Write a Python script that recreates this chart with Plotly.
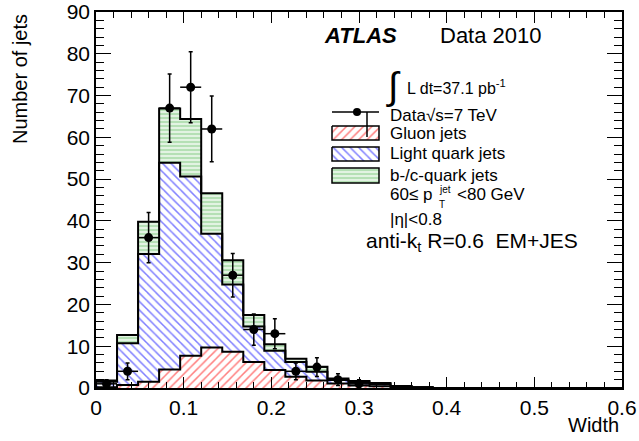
import numpy as np
import plotly.graph_objects as go

# ---------------- data ----------------
bin_width = 0.024
n_bins = 25
edges = [round(i * bin_width, 3) for i in range(n_bins + 1)]
centers = [round((edges[i] + edges[i + 1]) / 2, 4) for i in range(n_bins)]

gluon = [0.2, 0.7, 1.5, 4.4, 7.7, 9.7, 8.7, 6.2, 4.3, 2.7, 1.8, 1.1, 0.6, 0.4, 0.2, 0.1,
         0, 0, 0, 0, 0, 0, 0, 0, 0]
light = [1.3, 10.0, 30.6, 49.5, 42.9, 27.2, 16.1, 8.5, 4.6, 3.5, 2.1, 0.8, 0.7, 0.5, 0.2, 0.1,
         0, 0, 0, 0, 0, 0, 0, 0, 0]
bquark = [0.3, 2.0, 7.7, 13.0, 13.8, 9.7, 5.8, 2.8, 1.6, 0.8, 1.2, 0.4, 0.4, 0.3, 0.1, 0.0,
          0, 0, 0, 0, 0, 0, 0, 0, 0]
data_counts = [1, 4, 36, 67, 72, 62, 27, 14, 13, 4, 5, 2, 1]

x_ticks = [0, 0.1, 0.2, 0.3, 0.4, 0.5, 0.6]
y_ticks = [0, 10, 20, 30, 40, 50, 60, 70, 80, 90]

FONT = "Liberation Sans, Arial, Helvetica, sans-serif"

# plot-area pixel frame (used for overlay coordinates)
L, R, T, B = 96, 622, 12, 388

cum1 = list(np.array(gluon))
cum2 = list(np.array(gluon) + np.array(light))
cum3 = list(np.array(gluon) + np.array(light) + np.array(bquark))

fig = go.Figure()

pat_g = dict(shape="/", fgcolor="#ff0000", bgcolor="white", size=6, solidity=0.25)
pat_l = dict(shape="\\", fgcolor="#0000ff", bgcolor="white", size=6, solidity=0.25)
pat_b = dict(shape="-", fgcolor="#6cc26c", bgcolor="white", size=4, solidity=0.7)

for vals, pat in [(gluon, pat_g), (light, pat_l), (bquark, pat_b)]:
    fig.add_trace(go.Bar(
        x=centers, y=vals, width=bin_width,
        marker=dict(color="white", pattern=pat, line=dict(width=0)),
        hoverinfo="skip"))

# step outlines of stacked histograms
for cum in [cum1, cum2, cum3]:
    fig.add_trace(go.Scatter(
        x=[0] + edges, y=[0] + cum + [cum[-1]],
        mode="lines", line=dict(color="black", width=2, shape="hv"),
        hoverinfo="skip"))

# data points
nd = len(data_counts)
fig.add_trace(go.Scatter(
    x=centers[:nd], y=data_counts, mode="markers",
    marker=dict(color="black", size=9),
    error_y=dict(type="data", array=list(np.sqrt(data_counts)), color="black",
                 thickness=1.5, width=2),
    error_x=dict(type="data", array=[bin_width / 2] * nd, color="black",
                 thickness=1.5, width=0),
    hoverinfo="skip"))

# ---------------- legend (overlay axes in pixel units) ----------------
box_l, box_r = 332, 379
legend_boxes = [(126, 140, pat_g), (147, 161, pat_l), (168, 183, pat_b)]
for y0, y1, pat in legend_boxes:
    fig.add_trace(go.Scatter(
        x=[box_l, box_r, box_r, box_l, box_l], y=[y0, y0, y1, y1, y0],
        xaxis="x2", yaxis="y2", mode="lines", fill="toself",
        fillcolor="white", fillpattern=pat,
        line=dict(color="black", width=1.5), hoverinfo="skip"))

fig.add_trace(go.Scatter(x=[box_l, box_r], y=[112, 112], xaxis="x2", yaxis="y2",
                         mode="lines", line=dict(color="black", width=1.5), hoverinfo="skip"))
fig.add_trace(go.Scatter(x=[367, 367], y=[112, 137], xaxis="x2", yaxis="y2",
                         mode="lines", line=dict(color="black", width=1.5), hoverinfo="skip"))
fig.add_trace(go.Scatter(x=[357], y=[112], xaxis="x2", yaxis="y2",
                         mode="markers", marker=dict(color="black", size=8), hoverinfo="skip"))


def txt(x, y, s, size=17, xanchor="left", yanchor="middle"):
    fig.add_annotation(x=x, y=y, xref="x2", yref="y2", text=s, showarrow=False,
                       xanchor=xanchor, yanchor=yanchor,
                       font=dict(family=FONT, size=size, color="black"))


txt(322, 35, "<b><i>ATLAS</i></b>", 22)
txt(438, 35, "Data 2010", 22)
txt(384, 86, "\u222b", 38)
txt(405, 87, "L dt=37.1 pb<sup>-1</sup>", 16)
txt(388, 115, "Data\u221as=7 TeV", 17)
txt(388, 133, "Gluon jets", 17)
txt(388, 153, "Light quark jets", 17)
txt(388, 175, "b-/c-quark jets", 17)
txt(388, 194, "60\u2264 p", 17)
txt(437, 189, "jet", 10)
txt(437, 204, "T", 10)
txt(455, 194, "<80 GeV", 17)
txt(388, 219, "|\u03b7|<0.8", 17)
txt(364, 242, "anti-k<sub>t</sub> R=0.6\u00a0\u00a0EM+JES", 21)

# axis titles (paper coords)
def px2paper(px, py):
    return (px - L) / (R - L), (B - py) / (B - T)

tx, ty = px2paper(20, 12)
fig.add_annotation(x=tx, y=ty, xref="paper", yref="paper", text="Number of jets",
                   textangle=-90, showarrow=False, xanchor="center", yanchor="top",
                   font=dict(family=FONT, size=20, color="black"))
wx, wy = px2paper(621, 425)
fig.add_annotation(x=wx, y=wy, xref="paper", yref="paper", text="Width",
                   showarrow=False, xanchor="right", yanchor="middle",
                   font=dict(family=FONT, size=20, color="black"))

fig.update_layout(
    width=639, height=441,
    margin=dict(l=L, r=639 - R, t=T, b=441 - B, autoexpand=False),
    paper_bgcolor="white", plot_bgcolor="white",
    barmode="stack", bargap=0, showlegend=False,
    font=dict(family=FONT, color="black"),
    xaxis=dict(range=[0, 0.6], tickvals=x_ticks, ticktext=[f"{v:g}" for v in x_ticks],
               ticks="inside", ticklen=11, tickwidth=1, tickcolor="black", automargin=False,
               showline=True, linecolor="black", linewidth=1.5, mirror="allticks",
               showgrid=False, zeroline=False, tickfont=dict(size=21),
               minor=dict(dtick=0.02, tick0=0, ticks="inside", ticklen=6,
                          tickcolor="black", showgrid=False)),
    yaxis=dict(range=[0, 90], tickvals=y_ticks, ticks="inside", ticklen=15, tickwidth=1,
               tickcolor="black", showline=True, linecolor="black", linewidth=1.5,
               automargin=False,
               mirror="allticks", showgrid=False, zeroline=False, tickfont=dict(size=21),
               minor=dict(dtick=2, tick0=0, ticks="inside", ticklen=8,
                          tickcolor="black", showgrid=False)),
    xaxis2=dict(overlaying="x", range=[L, R], visible=False, anchor="y2", automargin=False),
    yaxis2=dict(overlaying="y", range=[B, T], visible=False, anchor="x2", automargin=False),
)

fig.write_html("out.html", config={"displayModeBar": False},
               post_script="document.body.style.margin='0';document.body.style.overflow='hidden';")
